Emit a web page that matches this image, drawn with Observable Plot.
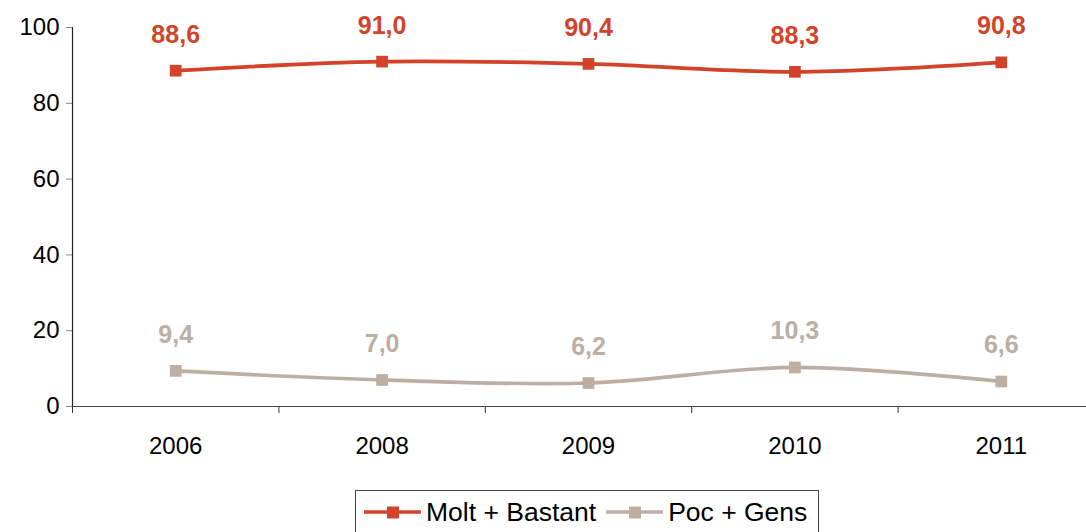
<!DOCTYPE html>
<html>
<head>
<meta charset="utf-8">
<script src="https://cdn.jsdelivr.net/npm/d3@7"></script>
<script src="https://cdn.jsdelivr.net/npm/@observablehq/plot@0.6"></script>
<style>
  html, body { margin: 0; padding: 0; background: white; overflow: hidden; width: 1086px; height: 532px; }
  body { position: relative; font-family: Arial, "Liberation Sans", sans-serif; }
  #legend { position: absolute; left: 355px; top: 490px; width: 464px; height: 44px; border: 1px solid #444; box-sizing: border-box; display: flex; align-items: center; padding-left: 8px; font-size: 26.5px; color: #000; white-space: nowrap; }
  .item { display: flex; align-items: center; }
  .item svg { margin-right: 5px; }
  .item + .item { margin-left: 10px; }
</style>
</head>
<body>
<div id="chart"></div>
<div id="legend"></div>
<script>
const years = ["2006", "2008", "2009", "2010", "2011"];
const seriesNames = ["Molt + Bastant", "Poc + Gens"];
const moltBastant = [88.6, 91.0, 90.4, 88.3, 90.8];
const pocGens = [9.4, 7.0, 6.2, 10.3, 6.6];
const seriesColors = ["#d2432a", "#bcaea3"];
const yTicks = [0, 20, 40, 60, 80, 100];

const seriesValues = [moltBastant, pocGens];
const data = seriesNames.flatMap((name, s) =>
  years.map((year, i) => ({ i, year, series: name, value: seriesValues[s][i] }))
);
const boundaries = d3.range(years.length + 1).map(k => k - 0.5);

const chart = Plot.plot({
  width: 1086,
  height: 470,
  marginLeft: 72,
  marginRight: -18,
  marginTop: 27,
  marginBottom: 64,
  style: { fontFamily: 'Arial, "Liberation Sans", sans-serif', fontSize: "24px", color: "#000", background: "white", overflow: "hidden" },
  x: { type: "linear", domain: [-0.5, years.length - 0.5] },
  y: { domain: [0, 100] },
  color: { domain: seriesNames, range: seriesColors },
  marks: [
    Plot.axisY({ ticks: yTicks, tickSize: 6, tickPadding: 7, stroke: "#888", fill: "#000", fontSize: 24, label: null, tickFormat: d => String(d) }),
    Plot.axisX({ ticks: boundaries, tickSize: 7, stroke: "#333", tickFormat: () => "", label: null }),
    Plot.axisX({ ticks: years.map((_, i) => i), tickSize: 0, tickPadding: 30, fill: "#000", fontSize: 24, label: null, tickFormat: i => years[i] }),
    Plot.ruleY([0], { stroke: "#444", strokeWidth: 1.2 }),
    Plot.ruleX([-0.5], { stroke: "#222", strokeWidth: 1.2 }),
    Plot.line(data, { x: "i", y: "value", z: "series", stroke: "series", strokeWidth: 3.7, curve: "catmull-rom" }),
    Plot.dot(data, { x: "i", y: "value", fill: "series", symbol: "square", r: 6.6, stroke: "none" }),
    Plot.text(data, { x: "i", y: "value", text: d => d.value.toFixed(1).replace(".", ","), fill: "series", fontWeight: "bold", fontSize: 25, dy: -36 })
  ]
});
document.getElementById("chart").appendChild(chart);

const legend = document.getElementById("legend");
seriesNames.forEach((name, s) => {
  const item = document.createElement("div");
  item.className = "item";
  item.innerHTML = `<svg width="57" height="20"><line x1="0" x2="57" y1="10" y2="10" stroke="${seriesColors[s]}" stroke-width="3.5"/><rect x="23" y="4.5" width="12" height="12" fill="${seriesColors[s]}"/></svg><span>${name}</span>`;
  legend.appendChild(item);
});
</script>
</body>
</html>
